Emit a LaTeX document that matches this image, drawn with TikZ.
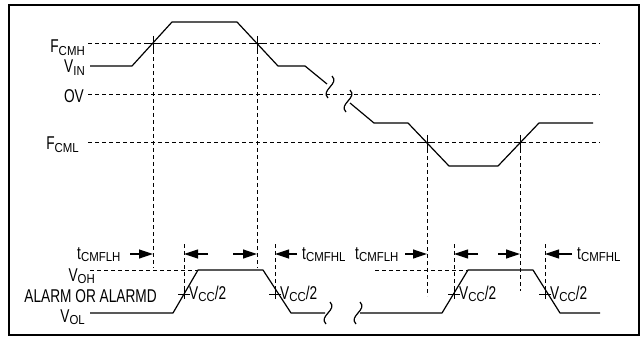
\documentclass[tikz,border=0pt]{standalone}
\usepackage{fontspec}
\setmainfont{Liberation Sans}[FakeStretch=0.74]
\newfontfamily\subfont{Liberation Sans}[FakeStretch=0.88]
\usepackage{tikz}
\usetikzlibrary{arrows.meta}
\newcommand\lo[1]{\raisebox{-2.5pt}{\fontsize{13}{14}\subfont #1}}

\tikzset{
  sig/.style={line width=1.2pt, line join=round},
  guide/.style={line width=0.75pt, dash pattern=on 4pt off 3pt},
  tick/.style={line width=0.9pt},
  tim/.style={-{Triangle[length=14pt,width=9pt]}, line width=1.2pt},
  lbl/.style={font=\fontsize{18.5}{19}\selectfont, inner sep=0pt},
  brk/.pic={\draw[sig] (2,-11) .. controls (10,-3) and (-10,3) .. (-2,11);}
}

\begin{document}
\begin{tikzpicture}[x=1pt, y=-1pt]
    \useasboundingbox (0,0) rectangle (642,339);
    \draw[line width=1.6pt] (9,5) rectangle (639,335);

    % Threshold levels
    \foreach \n/\y in {cmh/43, zero/94, cml/142} {
        \coordinate (\n-l) at (88,\y);
        \coordinate (\n-r) at (600,\y);
        \draw[guide] (\n-l) -- (\n-r);
    }
    \node[lbl, anchor=base east] (fcmh) at (85,53) {F\lo{CMH}};
    \node[lbl, anchor=base east] (vin) at (85,73) {V\lo{IN}};
    \node[lbl, anchor=base east] (zv) at (84,103) {OV};
    \node[lbl, anchor=base east] (fcml) at (79,150) {F\lo{CML}};

    % Input signal
    \draw[sig] (90,66) -- (132,66) -- (172,22) -- (237,22) -- (278,66) -- (305,66) -- (327,84);
    \draw[sig] (350,103) -- (374,123) -- (408,123) -- (449,166) -- (498,166) -- (539,123) -- (593,123);
    \pic at (330,87) {brk};
    \pic at (348,101) {brk};

    % Crossings of the input
    \foreach \n/\x/\y/\e in {c1/153/43/268, c2/257/43/268, c3/427/142/296, c4/520/142/291} {
        \coordinate (\n) at (\x,\y);
        \draw[tick] (\x-6,\y) -- (\x+6,\y) (\x,\y-7) -- (\x,\y+7);
        \draw[guide] (\x,\y+7) -- (\x,\e);
    }

    % Output signal
    \draw[guide] (90,270) -- (198,270);
    \draw[guide] (375,270) -- (468,270);
    \draw[sig] (90,313) -- (173,313) -- (198,270) -- (263,270) -- (291,313) -- (325,313);
    \draw[sig] (360,313) -- (442,313) -- (468,270) -- (533,270) -- (560,313) -- (600,313);
    \pic at (328,313) {brk};
    \pic at (358,313) {brk};
    \node[lbl, anchor=base east] (voh) at (95,281) {V\lo{OH}};
    \node[lbl, anchor=base east] (alarm) at (157,302) {ALARM OR ALARMD};
    \node[lbl, anchor=base east] (vol) at (85,322) {V\lo{OL}};

    % Crossings of the output
    \foreach \n/\x in {d1/184, d2/275, d3/454, d4/545} {
        \coordinate (\n) at (\x,294);
        \draw[guide] (\x,244) -- (\x,289);
        \draw[tick] (\x-6,294) -- (\x+6,294) (\x,289) -- (\x,299);
        \node[lbl, anchor=base west] (vcc-\n) at (\x+5,299) {V\lo{CC}/2};
    }

    % Delay arrows
    \coordinate (row) at (0,254);
    \foreach \t/\g in {130/c1, 208/d1, 233/c2, 297/d2, 405/c3, 478/d3, 498/c4, 572/d4}
        \draw[tim] (\t,254) -- (\g |- row);
    \node[lbl, anchor=base west] (tlh1) at (77,259) {t\lo{CMFLH}};
    \node[lbl, anchor=base west] (thl1) at (302,259) {t\lo{CMFHL}};
    \node[lbl, anchor=base west] (tlh2) at (355,259) {t\lo{CMFLH}};
    \node[lbl, anchor=base west] (thl2) at (577,259) {t\lo{CMFHL}};
\end{tikzpicture}
\end{document}
